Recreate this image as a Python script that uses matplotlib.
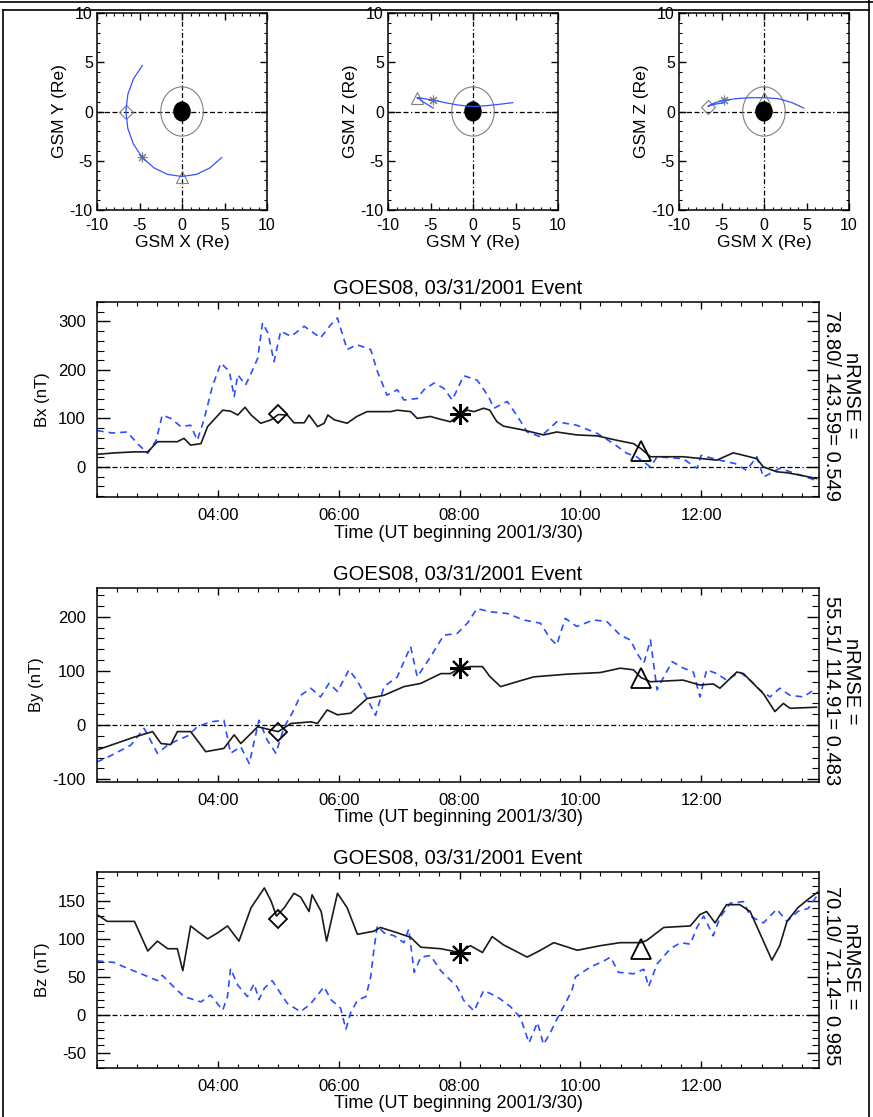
import matplotlib.pyplot as plt
from matplotlib.ticker import MultipleLocator
from matplotlib.patches import Circle
import numpy as np

plt.rcParams.update({"font.family": "Liberation Sans", "font.size": 12,
                     "axes.linewidth": 1.1, "axes.unicode_minus": False})

# spacecraft orbit, hourly from 02:00 to 14:00 (GSM, Re)
orb_x = [-4.67, -5.72, -6.38, -6.6, -6.38, -5.72, -4.67, -3.3, -1.71, 0.0, 1.71, 3.3, 4.67]
orb_y = [4.67, 3.3, 1.71, 0.0, -1.71, -3.3, -4.67, -5.72, -6.38, -6.6, -6.38, -5.72, -4.67]
orb_z = [0.9, 0.75, 0.6, 0.5, 0.65, 0.9, 1.15, 1.3, 1.4, 1.4, 1.3, 0.9, 0.35]
orb_mark_idx = [3, 6, 9]   # 05:00, 08:00, 11:00

# markers on the time series
mark_t = [5, 8, 11]
mark_sym = ['D', (8, 2, 0), '^']

# Bx
bx_mt = [2.0, 2.3, 2.62, 2.84, 3.0, 3.33, 3.44, 3.55, 3.72, 3.83, 4.08, 4.21, 4.33, 4.45, 4.55, 4.71, 4.88, 5.0,
         5.15, 5.26, 5.43, 5.51, 5.65, 5.76, 5.82, 5.93, 6.14, 6.3, 6.47, 6.86, 6.97, 7.19, 7.3, 7.52, 7.63, 7.85,
         8.0, 8.13, 8.24, 8.4, 8.5, 8.62, 8.73, 9.06, 9.39, 9.61, 9.94, 10.28, 10.6, 10.88, 11.0, 11.16, 11.7,
         12.26, 12.53, 12.7, 12.92, 13.03, 13.25, 13.42, 13.64, 13.91]
bx_m = [26, 29, 31, 31, 52, 52, 59, 45, 48, 83, 117, 115, 107, 123, 107, 90, 97, 108,
        107, 91, 91, 107, 83, 90, 107, 97, 90, 104, 114, 114, 117, 114, 100, 104, 100, 93,
        108, 117, 114, 121, 117, 93, 84, 76, 66, 72, 66, 64, 55, 48, 38, 21, 21,
        14, 29, 24, 17, 0, -10, -12, -17, -24]
bx_ot = [2.0, 2.25, 2.5, 2.67, 2.84, 2.98, 3.08, 3.22, 3.39, 3.55, 3.66, 3.77, 3.91, 4.05, 4.19, 4.27, 4.33,
         4.46, 4.55, 4.66, 4.74, 4.83, 4.93, 5.04, 5.21, 5.43, 5.7, 5.87, 5.98, 6.14, 6.3, 6.53, 6.64, 6.8,
         6.97, 7.08, 7.3, 7.41, 7.58, 7.74, 7.88, 8.07, 8.29, 8.35, 8.48, 8.57, 8.79, 8.96, 9.12, 9.34, 9.61,
         9.94, 10.28, 10.55, 10.77, 10.93, 11.16, 11.27, 11.7, 11.93, 12.0, 12.3, 12.56, 12.75, 12.92, 13.03,
         13.3, 13.57, 13.91]
bx_o = [75, 70, 72, 48, 28, 55, 107, 100, 83, 86, 55, 97, 166, 214, 197, 145, 190,
        169, 193, 224, 297, 276, 217, 280, 269, 290, 266, 293, 307, 242, 252, 242, 197, 148,
        159, 138, 141, 159, 173, 162, 138, 188, 179, 169, 145, 121, 135, 104, 72, 62, 93,
        86, 69, 48, 28, 21, 0, 21, 17, -3, 24, 14, 7, -7, 21, -21,
        -3, -14, -28]
bx_marks = [110, 110, 33]

# By
by_mt = [2.0, 2.62, 2.92, 3.06, 3.22, 3.33, 3.55, 3.8, 4.1, 4.27, 4.38, 4.66, 4.88, 5.0, 5.21, 5.54, 5.65,
         5.81, 5.98, 6.2, 6.47, 6.75, 7.08, 7.36, 7.69, 7.85, 8.0, 8.18, 8.38, 8.5, 8.68, 8.95, 9.23, 9.78,
         10.33, 10.66, 10.88, 11.0, 11.16, 11.7, 11.98, 12.2, 12.31, 12.59, 12.7, 13.03, 13.22, 13.36, 13.47,
         13.91]
by_m = [-46, -22, -12, -34, -36, -12, -12, -49, -43, -18, -34, -3, -9, -12, 3, 6, 3,
        28, 19, 22, 49, 55, 71, 77, 95, 95, 105, 108, 108, 90, 71, 80, 89, 94,
        97, 105, 102, 88, 80, 83, 74, 76, 68, 98, 95, 58, 25, 40, 31,
        33]
by_ot = [2.0, 2.2, 2.56, 2.78, 3.0, 3.17, 3.33, 3.5, 3.66, 3.88, 4.1, 4.21, 4.38, 4.52, 4.68, 4.82, 4.96,
         5.1, 5.23, 5.37, 5.54, 5.7, 5.84, 5.98, 6.17, 6.3, 6.47, 6.61, 6.75, 6.97, 7.19, 7.3, 7.52, 7.74,
         7.96, 8.13, 8.29, 8.51, 8.79, 9.06, 9.34, 9.5, 9.61, 9.75, 9.94, 10.22, 10.44, 10.66, 10.83, 10.94,
         11.05, 11.16, 11.27, 11.38, 11.52, 11.71, 11.87, 11.98, 12.09, 12.26, 12.42, 12.64, 12.81, 12.97,
         13.14, 13.3, 13.47, 13.69, 13.91]
by_o = [-68, -58, -37, -6, -52, -37, -28, -20, -3, 6, 9, -52, -40, -71, 9, -28, -52,
        -3, 22, 55, 68, 52, 77, 62, 102, 83, 49, 18, 71, 89, 145, 89, 126, 166,
        169, 188, 215, 209, 206, 194, 188, 160, 148, 197, 182, 194, 191, 166, 157, 132,
        114, 157, 65, 89, 117, 105, 98, 52, 102, 95, 83, 98, 83, 65,
        52, 68, 55, 52, 68]
by_marks = [-12, 105, 86]

# Bz
bz_mt = [2.0, 2.17, 2.62, 2.84, 3.0, 3.17, 3.33, 3.42, 3.55, 3.66, 3.83, 4.0, 4.16, 4.35, 4.55, 4.77, 4.88,
         4.97, 5.1, 5.26, 5.37, 5.51, 5.56, 5.71, 5.8, 5.98, 6.14, 6.31, 6.58, 6.69, 6.97, 7.19, 7.36, 7.69,
         8.0, 8.18, 8.38, 8.54, 8.73, 9.12, 9.34, 9.56, 9.95, 10.33, 10.66, 11.0, 11.1, 11.38, 11.82, 11.98,
         12.09, 12.23, 12.42, 12.64, 12.81, 13.03, 13.17, 13.3, 13.42, 13.6, 13.8, 13.94]
bz_m = [132, 123, 123, 84, 97, 87, 87, 58, 117, 110, 100, 108, 117, 97, 141, 167, 150,
        130, 141, 160, 155, 136, 158, 136, 97, 160, 141, 106, 110, 115, 108, 102, 89, 87,
        82, 91, 82, 103, 92, 76, 85, 95, 85, 91, 95, 95, 98, 115, 117, 132,
        136, 121, 145, 145, 136, 97, 72, 91, 123, 141, 154, 162]
bz_ot = [2.0, 2.28, 2.45, 2.73, 3.0, 3.08, 3.28, 3.44, 3.72, 3.88, 4.08, 4.16, 4.21, 4.33, 4.49, 4.6, 4.68,
         4.77, 4.9, 5.04, 5.15, 5.37, 5.54, 5.76, 5.87, 6.03, 6.12, 6.2, 6.31, 6.45, 6.53, 6.58, 6.64, 6.75,
         6.92, 7.08, 7.16, 7.25, 7.36, 7.52, 7.69, 7.96, 8.07, 8.24, 8.4, 8.62, 8.84, 9.01, 9.15, 9.29, 9.39,
         9.5, 9.61, 9.75, 9.86, 9.92, 10.17, 10.39, 10.5, 10.63, 10.88, 11.05, 11.13, 11.27, 11.49, 11.66,
         11.82, 11.93, 12.04, 12.2, 12.31, 12.48, 12.7, 12.81, 13.03, 13.25, 13.42, 13.6, 13.77, 13.91]
bz_o = [71, 69, 63, 54, 45, 52, 36, 24, 17, 26, 6, 24, 61, 39, 24, 41, 20,
        35, 45, 28, 15, 4, 15, 37, 20, 9, -19, 3, 19, 24, 50, 84, 117, 108,
        104, 95, 113, 56, 76, 78, 58, 37, 19, 5, 32, 24, 11, -4, -37, -10, -39,
        -24, -6, 15, 32, 50, 63, 71, 76, 56, 54, 60, 37, 67, 87, 95,
        93, 115, 130, 104, 128, 147, 149, 130, 121, 139, 123, 136, 140, 156]
bz_marks = [126, 82, 87]

time_ticks = [4, 6, 8, 10, 12]
time_labels = ['04:00', '06:00', '08:00', '10:00', '12:00']
title = 'GOES08, 03/31/2001 Event'
xlabel = 'Time (UT beginning 2001/3/30)'
rmse_txt = ['78.80/ 143.59= 0.549', '55.51/ 114.91= 0.483', '70.10/ 71.14= 0.985']

W, H = 873, 1117
fig = plt.figure(figsize=(W/100, H/100), dpi=100)

def box(x0, y0, x1, y1):
    # pixel box (top-left origin) -> figure fraction
    return [x0/W, 1 - y1/H, (x1-x0)/W, (y1-y0)/H]

# outer frame
bg = fig.add_axes([0, 0, 1, 1], zorder=-5)
bg.axis('off')
bg.set_xlim(0, W)
bg.set_ylim(H, 0)
bg.plot([0, W], [1.5, 1.5], c='k', lw=1.2)
bg.plot([3, 869], [10, 10], c='k', lw=1.2)
bg.plot([3, 3], [10, H], c='k', lw=1.2)
bg.plot([869, 869], [0, H], c='k', lw=1.2)

zdash = (0, (4, 2, 4, 2, 4, 2, 1, 2))

# ---------------- orbit panels ----------------
orb_panels = [(orb_x, orb_y, 'GSM X (Re)', 'GSM Y (Re)', 97),
              (orb_y, orb_z, 'GSM Y (Re)', 'GSM Z (Re)', 388),
              (orb_x, orb_z, 'GSM X (Re)', 'GSM Z (Re)', 679)]
for h, v, xl, yl, x0 in orb_panels:
    ax = fig.add_axes(box(x0, 13, x0 + 170, 210))
    ax.set_xlim(-10, 10)
    ax.set_ylim(-10, 10)
    ax.axhline(0, c='k', lw=0.9, ls=zdash, zorder=1)
    ax.axvline(0, c='k', lw=0.9, ls=zdash, zorder=1)
    for i, m in zip(orb_mark_idx, mark_sym):
        ax.plot(h[i], v[i], marker=m, ms=7 if m != '^' else 8, mfc='none', mec='gray', mew=0.8, zorder=2)
    ax.add_patch(Circle((0, 0), 2.5, fill=False, ec='gray', lw=0.8, zorder=2))
    ax.add_patch(Circle((0, 0), 0.95, fc='k', ec='k', zorder=3))
    ax.plot(h, v, c='#3355ff', lw=0.9, zorder=4)
    ax.set_xticks([-10, -5, 0, 5, 10])
    ax.set_yticks([-10, -5, 0, 5, 10])
    ax.xaxis.set_minor_locator(MultipleLocator(1))
    ax.yaxis.set_minor_locator(MultipleLocator(1))
    ax.tick_params(which='both', direction='in', top=True, right=True, labelsize=11.5)
    ax.tick_params(which='major', length=5, width=1)
    ax.tick_params(which='minor', length=2.5, width=0.8)
    ax.tick_params(axis='x', pad=6)
    ax.tick_params(axis='y', pad=3)
    ax.set_xlabel(xl, fontsize=12.5, labelpad=1)
    ax.set_ylabel(yl, fontsize=12.5, labelpad=2)

# ---------------- time series panels ----------------
series = [(bx_mt, bx_m, bx_ot, bx_o, bx_marks, 'Bx (nT)', 302, 497, (-62, 340), 100, 20, rmse_txt[0]),
          (by_mt, by_m, by_ot, by_o, by_marks, 'By (nT)', 588, 782, (-105, 253), 100, 20, rmse_txt[1]),
          (bz_mt, bz_m, bz_ot, bz_o, bz_marks, 'Bz (nT)', 872, 1068, (-70, 188), 50, 10, rmse_txt[2])]
for mt, m, ot, o, mk, yl, y0, y1, ylim, maj, mnr, rtxt in series:
    ax = fig.add_axes(box(97, y0, 819, y1))
    ax.axhline(0, c='k', lw=0.9, ls=zdash, zorder=1)
    ax.plot(ot, o, c='#2a4dff', lw=1.2, ls=(0, (4, 3)), zorder=2)
    ax.plot(mt, m, c='#1a1a1a', lw=1.2, zorder=3)
    for t, val, sym in zip(mark_t, mk, mark_sym):
        if sym == 'D':
            ax.plot(t, val, marker='D', ms=9, mfc='none', mec='k', mew=1.3, zorder=4)
        elif sym == '^':
            ax.plot(t, val, marker='^', ms=14, mfc='none', mec='k', mew=1.3, zorder=4)
        else:
            ax.plot(t, val, marker=sym, ms=15, mec='k', mew=1.5, zorder=4)
    ax.set_xlim(2.0, 13.95)
    ax.set_ylim(*ylim)
    ax.set_xticks(time_ticks)
    ax.set_xticklabels(time_labels)
    ax.xaxis.set_minor_locator(MultipleLocator(1/3))
    ax.yaxis.set_major_locator(MultipleLocator(maj))
    ax.yaxis.set_minor_locator(MultipleLocator(mnr))
    ax.tick_params(which='both', direction='in', top=True, right=True, labelsize=12)
    ax.tick_params(axis='x', which='major', length=5, width=1, pad=8)
    ax.tick_params(axis='x', which='minor', length=3, width=0.8)
    ax.tick_params(axis='y', which='major', length=9, width=1, pad=8)
    ax.tick_params(axis='y', which='minor', length=5, width=0.8)
    ax.set_title(title, fontsize=14.5, pad=6)
    ax.set_xlabel(xlabel, fontsize=13, labelpad=1)
    ax.set_ylabel(yl, fontsize=12, labelpad=6)
    ax.text(1.017, 0.47, rtxt, transform=ax.transAxes, rotation=-90,
            ha='center', va='center', fontsize=14.5)
    ax.text(1.045, 0.52, 'nRMSE =', transform=ax.transAxes, rotation=-90,
            ha='center', va='center', fontsize=14.5)

plt.savefig('out.png', dpi=100)
